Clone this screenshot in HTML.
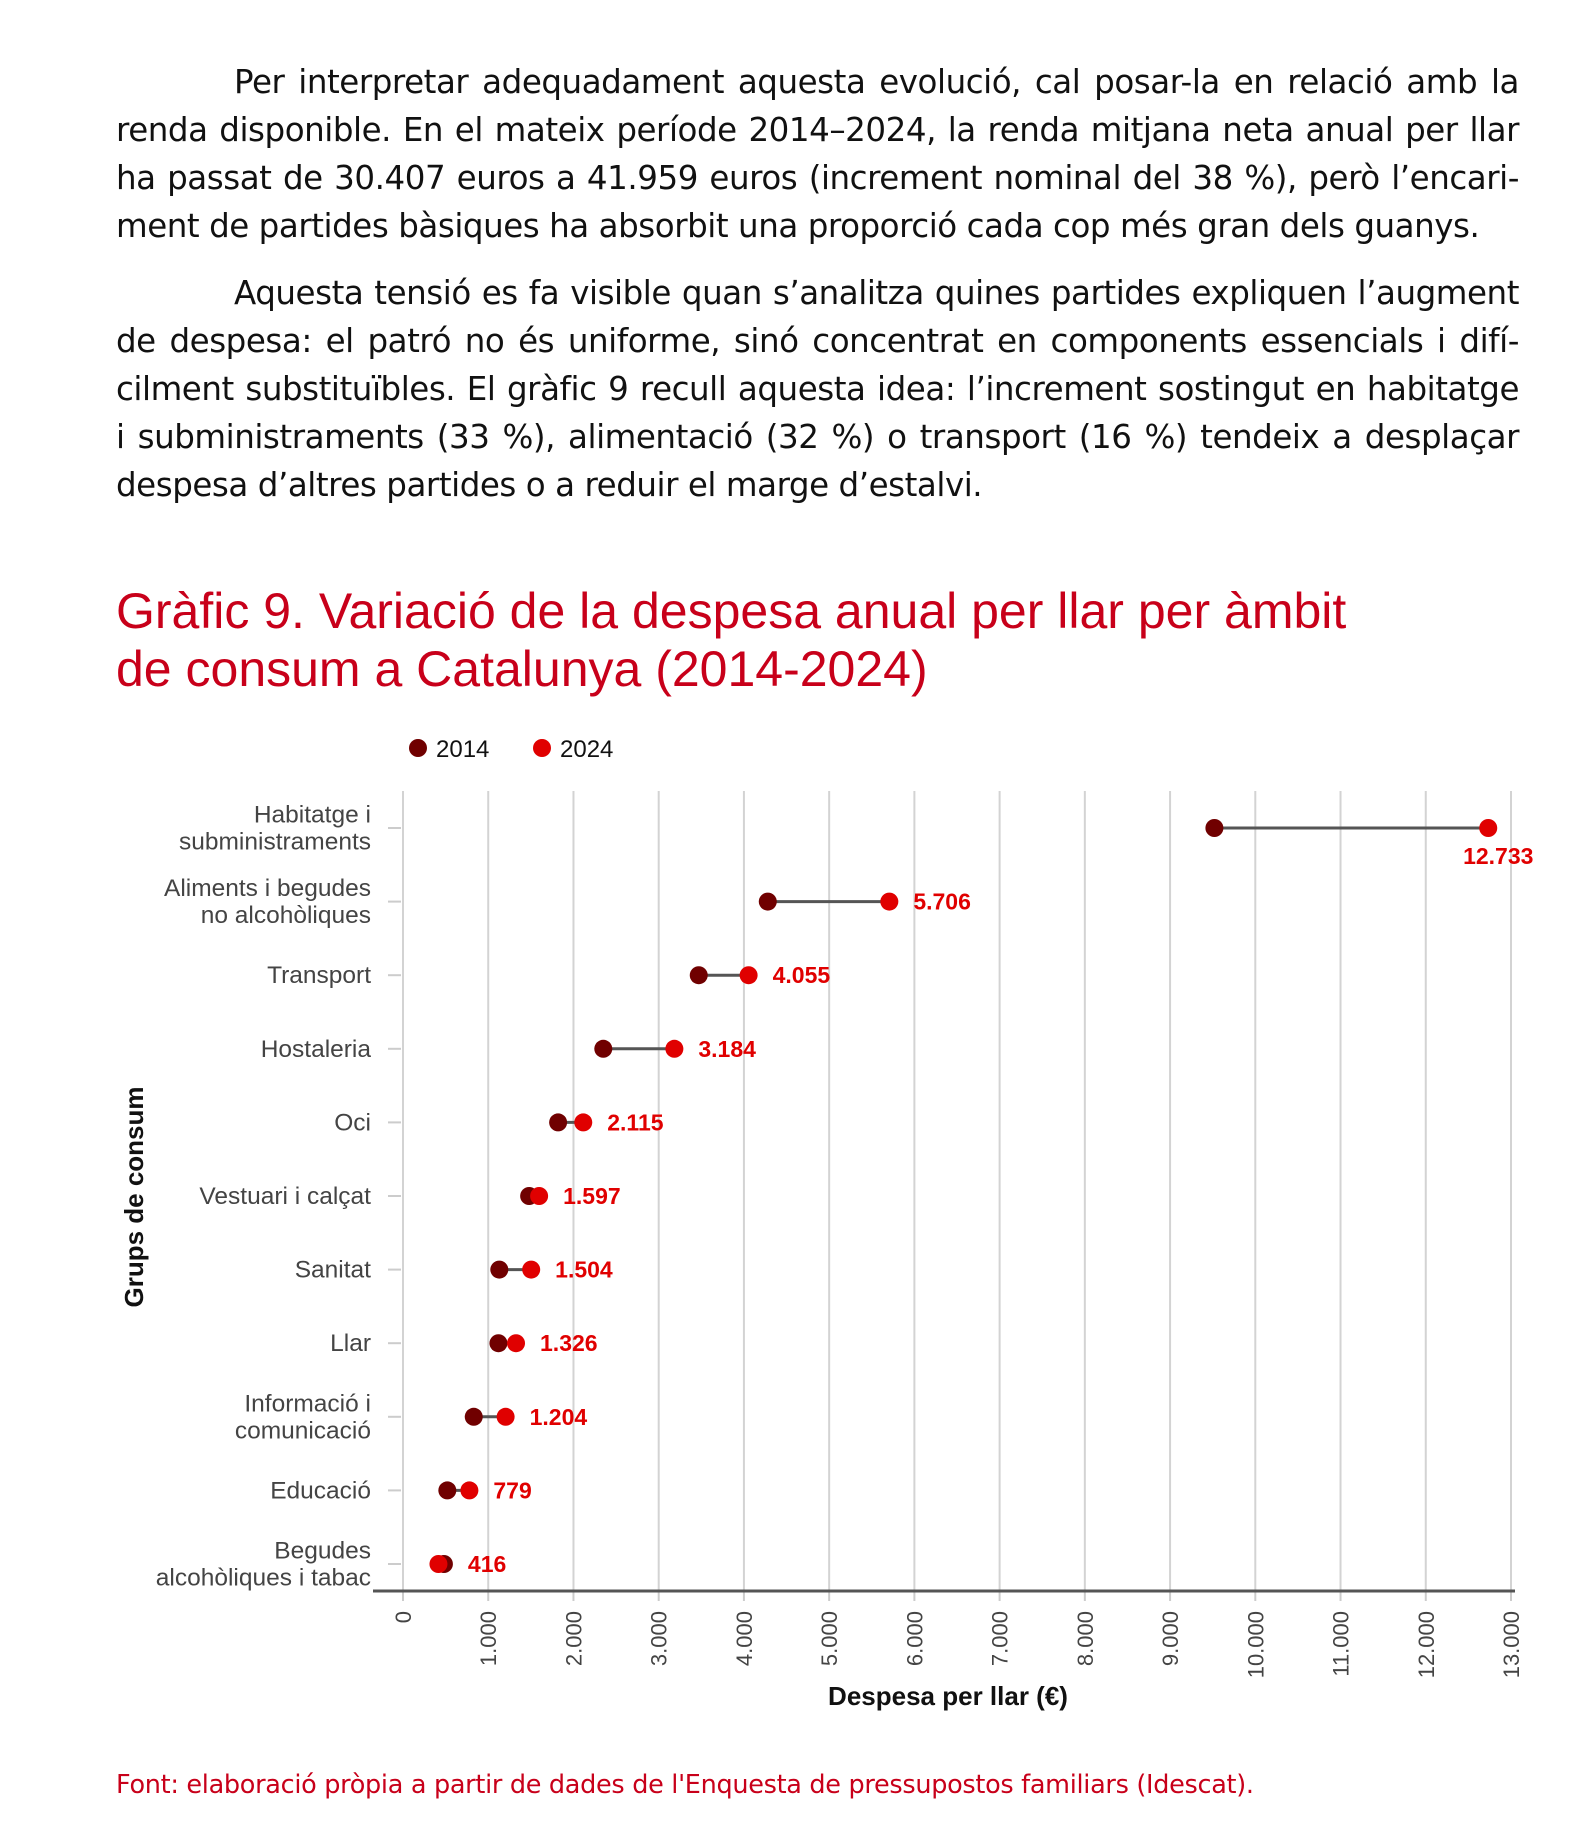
<!DOCTYPE html>
<html><head><meta charset="utf-8"><style>
body{margin:0;background:#fff;width:1592px;height:1846px;position:relative;overflow:hidden;font-family:"Liberation Sans",sans-serif}
.p{position:absolute;left:116px;width:1403px;font-family:"DejaVu Sans","Liberation Sans",sans-serif;font-size:32.5px;color:#111;letter-spacing:-0.45px}
.l{height:48px;line-height:48px;text-align:justify;text-align-last:justify;white-space:nowrap}
.l.last{text-align-last:left}
.title{position:absolute;left:116px;top:582px;font-size:50px;color:#c8001a;line-height:58px}
.src{position:absolute;left:116px;top:1770px;font-size:25.5px;color:#c8001a;font-family:"DejaVu Sans","Liberation Sans",sans-serif;letter-spacing:-0.3px}
svg{position:absolute;left:0;top:0}
</style></head><body>
<div class="p" style="top:58px">
<div class="l" style="padding-left:118px">Per interpretar adequadament aquesta evolució, cal posar-la en relació amb la</div>
<div class="l">renda disponible. En el mateix període 2014–2024, la renda mitjana neta anual per llar</div>
<div class="l">ha passat de 30.407 euros a 41.959 euros (increment nominal del 38 %), però l’encari-</div>
<div class="l last">ment de partides bàsiques ha absorbit una proporció cada cop més gran dels guanys.</div>
</div>
<div class="p" style="top:269px">
<div class="l" style="padding-left:118px">Aquesta tensió es fa visible quan s’analitza quines partides expliquen l’augment</div>
<div class="l">de despesa: el patró no és uniforme, sinó concentrat en components essencials i difí-</div>
<div class="l">cilment substituïbles. El gràfic 9 recull aquesta idea: l’increment sostingut en habitatge</div>
<div class="l">i subministraments (33 %), alimentació (32 %) o transport (16 %) tendeix a desplaçar</div>
<div class="l last">despesa d’altres partides o a reduir el marge d’estalvi.</div>
</div>
<div class="title">Gràfic 9. Variació de la despesa anual per llar per àmbit<br>de consum a Catalunya (2014-2024)</div>
<div class="src">Font: elaboració pròpia a partir de dades de l'Enquesta de pressupostos familiars (Idescat).</div>
<svg id="chart" width="1592" height="1846"></svg>
<script>
const categories=[["Habitatge i","subministraments"],["Aliments i begudes","no alcohòliques"],["Transport"],["Hostaleria"],["Oci"],["Vestuari i calçat"],["Sanitat"],["Llar"],["Informació i","comunicació"],["Educació"],["Begudes","alcohòliques i tabac"]];
const values2014=[9520,4280,3470,2350,1820,1480,1130,1120,830,520,480];
const values2024=[12733,5706,4055,3184,2115,1597,1504,1326,1204,779,416];
const valueLabels=["12.733","5.706","4.055","3.184","2.115","1.597","1.504","1.326","1.204","779","416"];
const xTicks=[0,1000,2000,3000,4000,5000,6000,7000,8000,9000,10000,11000,12000,13000];
const xTickLabels=["0","1.000","2.000","3.000","4.000","5.000","6.000","7.000","8.000","9.000","10.000","11.000","12.000","13.000"];
const NS="http://www.w3.org/2000/svg";
const svg=document.getElementById('chart');
const x=v=>403+v*(1511-403)/13000;
const y=i=>828+i*73.6;
function mk(t,a,txt){const e=document.createElementNS(NS,t);for(const k in a)e.setAttribute(k,a[k]);if(txt!=null)e.textContent=txt;svg.appendChild(e);return e;}
xTicks.forEach((t,i)=>{
 const g=mk('line',{x1:x(t),x2:x(t),y1:791,y2:1591,stroke:'#d3d3d3','stroke-width':2});
 
 
 const tk=mk('line',{x1:x(t),x2:x(t),y1:1591,y2:1601,stroke:'#ccc','stroke-width':2});
 
 
 const lb=mk('text',{x:0,y:0,transform:`translate(${x(t)+8},1611) rotate(-90)`,'text-anchor':'end','font-size':22,fill:'#444'},xTickLabels[i]);
 
 
});
const ax=mk('line',{x1:373,x2:1515,y1:1591,y2:1591,stroke:'#555','stroke-width':3});


categories.forEach((c,i)=>{
 const yy=y(i);
 const tk=mk('line',{x1:388,x2:401,y1:yy,y2:yy,stroke:'#ccc','stroke-width':2});
 
 
 const lb=mk('text',{x:371,y:0,'text-anchor':'end','font-size':24.5,fill:'#444'});
 
 
 c.forEach((s,j)=>{const ts=document.createElementNS(NS,'tspan');ts.setAttribute('x',371);ts.setAttribute('y',yy+8+(j-(c.length-1)/2)*27);ts.textContent=s;lb.appendChild(ts);});
 const ln=mk('line',{x1:x(values2014[i]),x2:x(values2024[i]),y1:yy,y2:yy,stroke:'#555','stroke-width':3});
 
 
 const d1=mk('circle',{cx:x(values2014[i]),cy:yy,r:9,fill:'#700000'});
 
 
 const d2=mk('circle',{cx:x(values2024[i]),cy:yy,r:9,fill:'#e00000'});
 
 
 let vl;
 if(i===0) vl=mk('text',{x:x(values2024[i])+10,y:yy+36,'text-anchor':'middle','font-size':23,'font-weight':'bold',fill:'#e00000'},valueLabels[i]);
 else vl=mk('text',{x:x(Math.max(values2024[i],values2014[i]))+24,y:yy+8,'font-size':23,'font-weight':'bold',fill:'#e00000'},valueLabels[i]);
 
 
});
const xt=mk('text',{x:948,y:1705,'text-anchor':'middle','font-size':26,'font-weight':'bold',fill:'#111'},'Despesa per llar (€)');


const yt=mk('text',{x:0,y:0,transform:'translate(143,1197) rotate(-90)','text-anchor':'middle','font-size':26,'font-weight':'bold',fill:'#111'},'Grups de consum');


const l1=mk('circle',{cx:418,cy:748,r:9,fill:'#700000'});


const lt1=mk('text',{x:436,y:757,'font-size':24,fill:'#111'},'2014');


const l2=mk('circle',{cx:542,cy:748,r:9,fill:'#e00000'});


const lt2=mk('text',{x:560,y:757,'font-size':24,fill:'#111'},'2024');


</script>
</body></html>
